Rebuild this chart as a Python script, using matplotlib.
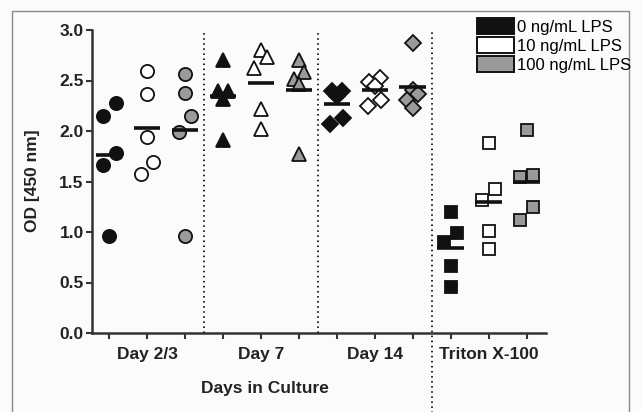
import numpy as np
import matplotlib.pyplot as plt
from matplotlib.patches import Patch, Rectangle

plt.rcParams['font.family'] = ['Liberation Sans', 'DejaVu Sans']

groups = ['Day 2/3', 'Day 7', 'Day 14', 'Triton X-100']
doses = ['0 ng/mL LPS', '10 ng/mL LPS', '100 ng/mL LPS']

# OD readings, 5 replicates per condition
day23_0 = [2.28, 2.15, 1.78, 1.66, 0.96]
day23_10 = [2.59, 2.37, 1.94, 1.69, 1.57]
day23_100 = [2.56, 2.38, 2.15, 1.99, 0.96]
day7_0 = [2.70, 2.40, 2.40, 2.32, 1.91]
day7_10 = [2.80, 2.73, 2.62, 2.22, 2.02]
day7_100 = [2.70, 2.58, 2.51, 2.47, 1.77]
day14_0 = [2.40, 2.40, 2.35, 2.13, 2.07]
day14_10 = [2.52, 2.49, 2.45, 2.31, 2.25]
day14_100 = [2.87, 2.41, 2.37, 2.31, 2.23]
triton_0 = [1.20, 0.99, 0.90, 0.66, 0.46]
triton_10 = [1.88, 1.43, 1.32, 1.01, 0.83]
triton_100 = [2.01, 1.56, 1.54, 1.25, 1.12]

data = [[day23_0, day23_10, day23_100],
        [day7_0, day7_10, day7_100],
        [day14_0, day14_10, day14_100],
        [triton_0, triton_10, triton_100]]

markers = ['o', '^', 'D', 's']
msizes = [9.5, 10.5, 8.5, 8]
faces = ['#111111', 'white', '#9a9a9a']


def swarm(vals, h=0.17):
    # spread points that sit close together, a bit like prism does
    vals = np.asarray(vals)
    order = np.argsort(vals)
    offs = np.zeros(len(vals))
    clusters = []
    cur = [order[0]]
    for i in order[1:]:
        if vals[i] - vals[cur[0]] <= h:
            cur.append(i)
        else:
            clusters.append(cur)
            cur = [i]
    clusters.append(cur)
    for c in clusters:
        n = len(c)
        if n == 2:
            offs[c] = [-0.17, 0.17]
        elif n > 2:
            pat = [0]
            k = 1
            while len(pat) < n:
                pat += [-0.14 * k, 0.14 * k]
                k += 1
            offs[c] = pat[:n]
    return offs


fig = plt.figure(figsize=(6.41, 4.12), dpi=100, facecolor='#fbfbfb')
fig.patches.append(Rectangle((12 / 641, -0.02), 617 / 641, 1 - 11 / 412 + 0.02,
                             transform=fig.transFigure, fill=False,
                             edgecolor='#8a8a8a', lw=1.0))
ax = fig.add_axes([92 / 641, 79 / 412, 454 / 641, 303 / 412])
ax.set_facecolor('#fbfbfb')

pos = 1
for gi, grp in enumerate(data):
    for di, vals in enumerate(grp):
        x = pos + swarm(vals)
        ax.plot(x, vals, ls='none', marker=markers[gi], ms=msizes[gi],
                mfc=faces[di], mec='#111111', mew=1.3, zorder=3)
        ax.hlines(np.mean(vals), pos - 0.35, pos + 0.35, color='#111111',
                  lw=2.6, zorder=5)
        pos += 1

for xd in [3.5, 6.5]:
    ax.axvline(xd, color='#222222', lw=1.4, ls=(0, (0.8, 1.8)))
ax.axvline(9.5, ymin=-0.27, ymax=1, color='#222222', lw=1.4,
           ls=(0, (0.8, 1.8)), clip_on=False)

ax.set_xlim(0.55, 12.51)
ax.set_ylim(0, 3.0)
ax.set_yticks(np.arange(0, 3.01, 0.5))
ax.set_yticklabels(['%.1f' % v for v in np.arange(0, 3.01, 0.5)],
                   fontsize=12.5, fontweight='bold', color='#222222')
xlabs = []
for g in groups:
    xlabs += ['', g, '']
ax.set_xticks(range(1, 13))
ax.set_xticklabels(xlabs, fontsize=12.5, fontweight='bold', color='#222222')
ax.tick_params(axis='both', length=4, width=1.5, color='#333333')
ax.tick_params(axis='x', pad=6)
ax.tick_params(axis='y', pad=2)

for s in ['top', 'right']:
    ax.spines[s].set_visible(False)
for s in ['left', 'bottom']:
    ax.spines[s].set_color('#333333')
    ax.spines[s].set_linewidth(1.8)

fig.text(33 / 641, 1 - 181 / 412, 'OD [450 nm]', rotation=90, ha='center',
         va='center', fontsize=12.5, fontweight='bold', color='#222222')
fig.text(265 / 641, 1 - 388 / 412, 'Days in Culture', ha='center',
         va='center', fontsize=12.5, fontweight='bold', color='#222222')

handles = [Patch(facecolor=f, edgecolor='#111111', lw=1.4) for f in faces]
fig.legend(handles=handles, labels=doses, loc='upper right',
           bbox_to_anchor=(631 / 641, 1 - 18 / 412), frameon=False,
           fontsize=12, handlelength=2.2, handleheight=1.1,
           handletextpad=0.2, labelspacing=0.15, borderpad=0,
           borderaxespad=0)

fig.savefig('out.png', dpi=100, facecolor=fig.get_facecolor())
